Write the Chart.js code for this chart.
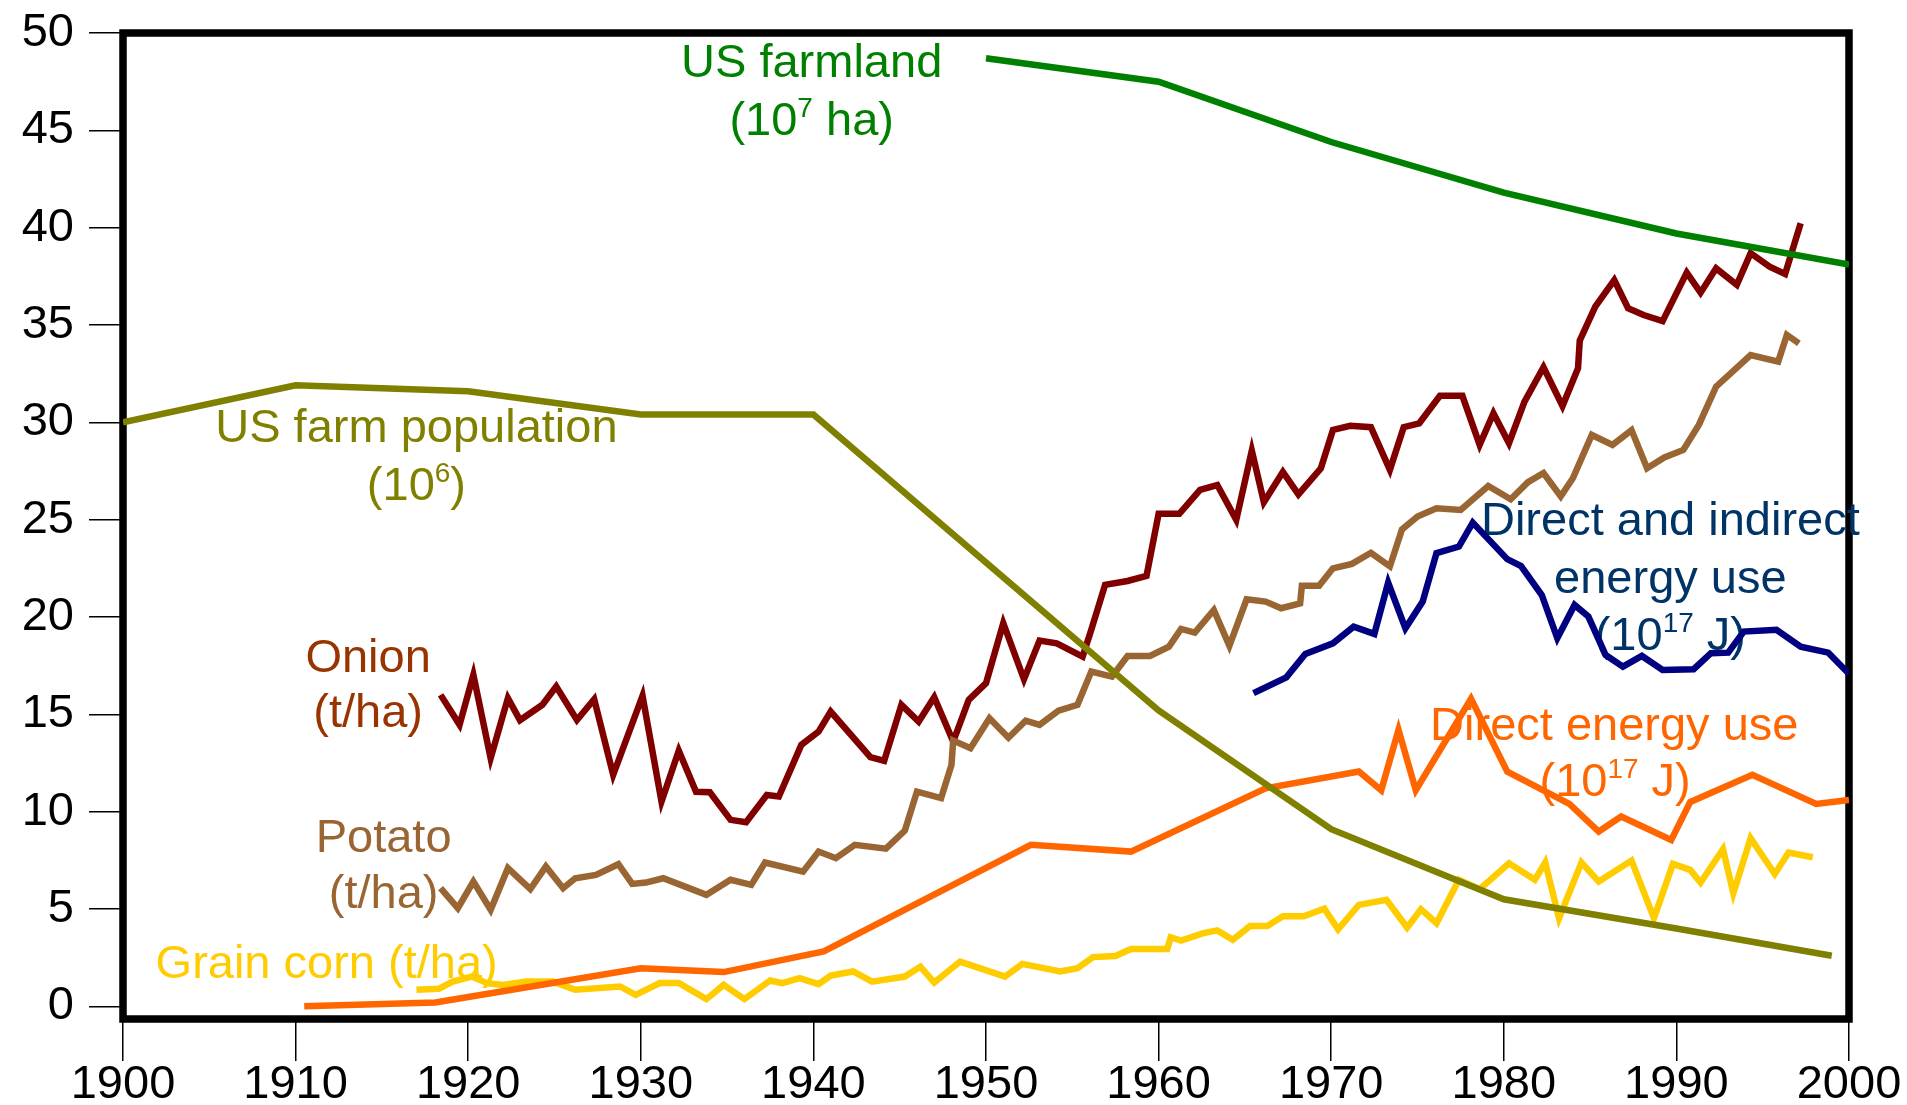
<!DOCTYPE html>
<html>
<head>
<meta charset="utf-8">
<title>US farm trends 1900-2000</title>
<script src="https://cdn.jsdelivr.net/npm/chart.js@4.4.1/dist/chart.umd.min.js"></script>
<style>
  html, body { margin: 0; padding: 0; background: #fff; }
  #wrap { width: 1907px; height: 1105px; }
</style>
</head>
<body>
<div id="wrap"><canvas id="chart"></canvas></div>
<script>
// values, x = year

const xTicks = [1900, 1910, 1920, 1930, 1940, 1950, 1960, 1970, 1980, 1990, 2000];
const yTicks = [0, 5, 10, 15, 20, 25, 30, 35, 40, 45, 50];

// US farmland (10^7 ha)
const farmlandYears = [1950, 1960, 1970, 1980, 1990, 2000];
const farmland = [48.7, 47.5, 44.4, 41.8, 39.7, 38.1];

// US farm population (10^6)
const farmPopYears = [1900, 1910, 1920, 1930, 1940, 1950, 1960, 1970, 1980, 1990, 1999];
const farmPop = [30.0, 31.9, 31.6, 30.4, 30.4, 22.8, 15.2, 9.1, 5.5, 4.0, 2.6];

// direct energy use (10^17 J)
const directYears = [1910.5, 1918.1, 1930, 1934.8, 1940.6, 1952.6, 1958.4, 1966.2, 1971.6, 1972.9,
  1973.9, 1974.9, 1978.1, 1980.2, 1983.8, 1985.5, 1986.8, 1989.7, 1990.8, 1994.4, 1998.1, 2000];
const directEnergy = [0.0, 0.2, 1.96, 1.76, 2.82, 8.3, 7.95, 11.2, 12.06, 11.1,
  14.2, 11.1, 15.8, 12.06, 10.4, 8.98, 9.75, 8.55, 10.5, 11.9, 10.4, 10.6];

// direct and indirect energy use (10^17 J)
const totalYears = [1965.5, 1967.4, 1968.5, 1970.1, 1971.3, 1972.5, 1973.3, 1974.3, 1975.3, 1976.1,
  1977.4, 1978.2, 1980.2, 1981, 1982.2, 1983.1, 1984.1, 1984.9, 1985.9, 1986.9,
  1988, 1989.2, 1991, 1992, 1993, 1993.9, 1995.8, 1997.2, 1998.8, 2000];
const totalEnergy = [16.09, 16.9, 18.1, 18.65, 19.5, 19.13, 21.77, 19.42, 20.79, 23.28,
  23.62, 24.85, 22.97, 22.62, 21.13, 18.91, 20.62, 20.02, 18.05, 17.45,
  18.0, 17.28, 17.32, 18.14, 18.17, 19.25, 19.34, 18.48, 18.17, 17.08];

// onion yield (t/ha)
const onionYears = [1918.4, 1919.5, 1920.3, 1921.3, 1922.3, 1923, 1924.3, 1925.1, 1926.3, 1927.3,
  1928.4, 1930.1, 1931.2, 1932.2, 1933.2, 1934, 1935.2, 1936.1, 1937.3, 1938,
  1939.3, 1940.3, 1941, 1943.3, 1944.1, 1945.1, 1946.1, 1947, 1948.1, 1949,
  1950, 1951, 1952.2, 1953.1, 1954.1, 1955.6, 1956.1, 1956.9, 1958.2, 1959.3,
  1960, 1961.2, 1962.4, 1963.4, 1964.5, 1965.4, 1966.1, 1967.2, 1968.1, 1969.4,
  1970.1, 1971.1, 1972.3, 1973.4, 1974.2, 1975.1, 1976.3, 1977.6, 1978.6, 1979.4,
  1980.3, 1981.2, 1982.3, 1983.4, 1984.3, 1984.4, 1985.3, 1986.4, 1987.2, 1988.1,
  1989.2, 1990.6, 1991.4, 1992.3, 1993.5, 1994.3, 1995.4, 1996.3, 1997.2];
const onion = [16.0, 14.46, 17.03, 12.75, 15.83, 14.7, 15.49, 16.43, 14.71, 15.78,
  11.89, 15.95, 10.52, 13.13, 11.02, 11.0, 9.58, 9.46, 10.86, 10.78,
  13.43, 14.11, 15.14, 12.8, 12.61, 15.49, 14.63, 15.88, 13.6, 15.74,
  16.6, 19.68, 16.8, 18.79, 18.65, 17.97, 19.34, 21.65, 21.85, 22.11,
  25.3, 25.3, 26.53, 26.78, 24.99, 28.55, 25.9, 27.45, 26.3, 27.64,
  29.61, 29.82, 29.75, 27.56, 29.75, 29.95, 31.36, 31.36, 28.84, 30.47,
  28.93, 31.06, 32.83, 30.84, 32.78, 34.2, 35.94, 37.31, 35.86, 35.51,
  35.2, 37.69, 36.66, 37.91, 37.06, 38.69, 38.0, 37.62, 40.23];

// potato yield (t/ha)
const potatoYears = [1918.4, 1919.4, 1920.3, 1921.3, 1922.3, 1923.6, 1924.5, 1925.5, 1926.2, 1927.4,
  1928.7, 1929.5, 1930.3, 1931.3, 1933.8, 1935.2, 1936.4, 1937.2, 1939.4, 1940.3,
  1941.3, 1942.4, 1944.2, 1945.3, 1946, 1947.4, 1948, 1948.1, 1949.1, 1950.2,
  1951.3, 1952.3, 1953.1, 1954.2, 1955.3, 1956.1, 1957.3, 1958.2, 1959.5, 1960.6,
  1961.3, 1962.1, 1963.2, 1964.1, 1965.1, 1966.2, 1967.1, 1968.2, 1968.3, 1969.3,
  1970.1, 1971.2, 1972.3, 1973.4, 1974.1, 1975, 1976.1, 1977.5, 1979.1, 1980.4,
  1981.4, 1982.3, 1983.3, 1984, 1985.1, 1986.3, 1987.4, 1988.3, 1989.3, 1990.4,
  1991.3, 1992.3, 1994.3, 1995.9, 1996.4, 1997.1];
const potato = [6.07, 5.04, 6.41, 4.96, 7.1, 6.02, 7.18, 6.07, 6.58, 6.75,
  7.3, 6.29, 6.36, 6.58, 5.73, 6.5, 6.24, 7.39, 6.92, 7.95,
  7.61, 8.3, 8.1, 9.03, 11.03, 10.7, 12.4, 13.65, 13.26, 14.8,
  13.8, 14.68, 14.46, 15.19, 15.49, 17.2, 16.94, 18.0, 18.0, 18.48,
  19.39, 19.2, 20.36, 18.52, 20.91, 20.79, 20.45, 20.7, 21.6, 21.6,
  22.5, 22.73, 23.3, 22.6, 24.5, 25.16, 25.59, 25.5, 26.73, 26.05,
  26.93, 27.4, 26.2, 27.13, 29.35, 28.84, 29.6, 27.64, 28.2, 28.58,
  29.87, 31.83, 33.46, 33.12, 34.49, 34.06];

// grain corn yield (t/ha)
const cornYears = [1917, 1918.3, 1919.1, 1920.2, 1921.1, 1922, 1923.4, 1924.9, 1926.2, 1928.8,
  1929.7, 1931.1, 1932.2, 1933.8, 1934.8, 1936, 1937.5, 1938.2, 1939.2, 1940.3,
  1941, 1942.3, 1943.4, 1945.3, 1946.2, 1947, 1948.5, 1951.1, 1952.1, 1954.3,
  1955.3, 1956.2, 1957.5, 1958.4, 1960.5, 1960.7, 1961.3, 1962.6, 1963.4, 1964.3,
  1965.3, 1966.3, 1967.2, 1968.4, 1969.6, 1970.4, 1971.6, 1973.2, 1974.4, 1975.2,
  1976.1, 1977.4, 1978.6, 1980.3, 1981.8, 1982.4, 1983.2, 1984.5, 1985.5, 1987.4,
  1988.7, 1989.8, 1990.8, 1991.4, 1992.7, 1993.3, 1994.3, 1995.7, 1996.5, 1997.9];
const corn = [0.85, 0.9, 1.27, 1.53, 1.19, 1.1, 1.27, 1.27, 0.85, 1.02,
  0.59, 1.2, 1.2, 0.37, 1.1, 0.37, 1.33, 1.19, 1.45, 1.14,
  1.58, 1.79, 1.27, 1.53, 2.04, 1.22, 2.3, 1.53, 2.18, 1.79,
  1.96, 2.53, 2.59, 2.95, 2.95, 3.55, 3.38, 3.76, 3.9, 3.42,
  4.13, 4.13, 4.63, 4.63, 5.02, 3.96, 5.21, 5.47, 4.05, 4.99,
  4.27, 6.5, 6.02, 7.35, 6.5, 7.39, 4.53, 7.39, 6.41, 7.49,
  4.53, 7.32, 7.01, 6.36, 8.07, 5.81, 8.64, 6.8, 7.9, 7.66];

const toPoints = (xs, ys) => xs.map((x, i) => ({ x: x, y: ys[i] }));

// text labels placed in data coordinates (year, value of the baseline)
const labels = [
  { color: "#008000", x: 1939.9, y: 47.72, parts: ["US farmland"] },
  { color: "#008000", x: 1939.9, y: 44.74, parts: ["(10", { sup: "7" }, " ha)"] },
  { color: "#808000", x: 1917.0, y: 29.01, parts: ["US farm population"] },
  { color: "#808000", x: 1917.0, y: 26.01, parts: ["(10", { sup: "6" }, ")"] },
  { color: "#993300", x: 1914.2, y: 17.2, parts: ["Onion"] },
  { color: "#993300", x: 1914.2, y: 14.37, parts: ["(t/ha)"] },
  { color: "#996633", x: 1915.1, y: 7.95, parts: ["Potato"] },
  { color: "#996633", x: 1915.1, y: 5.04, parts: ["(t/ha)"] },
  { color: "#FFCC00", x: 1911.8, y: 1.45, parts: ["Grain corn (t/ha)"] },
  { color: "#003366", x: 1989.65, y: 24.22, parts: ["Direct and indirect"] },
  { color: "#003366", x: 1989.65, y: 21.22, parts: ["energy use"] },
  { color: "#003366", x: 1989.65, y: 18.31, parts: ["(10", { sup: "17" }, " J)"] },
  { color: "#FF6600", x: 1986.4, y: 13.69, parts: ["Direct energy use"] },
  { color: "#FF6600", x: 1986.45, y: 10.78, parts: ["(10", { sup: "17" }, " J)"] },
];

const FONT = '"Liberation Sans", Arial, sans-serif';
const TEXT_SIZE = 47;
const SUP_SIZE = 28;

function drawRich(ctx, parts, cx, baseY, color) {
  const pieces = parts.map((p) => {
    const sup = typeof p !== "string";
    const text = sup ? p.sup : p;
    ctx.font = (sup ? SUP_SIZE : TEXT_SIZE) + "px " + FONT;
    return { text, sup, w: ctx.measureText(text).width };
  });
  const total = pieces.reduce((s, p) => s + p.w, 0);
  let x = cx - total / 2;
  ctx.fillStyle = color;
  ctx.textAlign = "left";
  ctx.textBaseline = "alphabetic";
  pieces.forEach((p) => {
    ctx.font = (p.sup ? SUP_SIZE : TEXT_SIZE) + "px " + FONT;
    ctx.fillText(p.text, x, p.sup ? baseY - 18 : baseY);
    x += p.w;
  });
}

// black frame round the plot + the series names
const framePlugin = {
  id: "frameAndLabels",
  beforeDatasetsDraw(chart) {
    const { ctx, chartArea: a, scales } = chart;
    ctx.save();
    ctx.strokeStyle = "#000";
    ctx.lineWidth = 7.5;
    ctx.strokeRect(a.left, a.top, a.right - a.left, a.bottom - a.top);
    labels.forEach((l) => {
      drawRich(ctx, l.parts, scales.x.getPixelForValue(l.x), scales.y.getPixelForValue(l.y), l.color);
    });
    ctx.restore();
  },
};

const line = (data, color) => ({
  data: data,
  borderColor: color,
  backgroundColor: color,
  borderWidth: 6.5,
  pointRadius: 0,
  tension: 0,
  fill: false,
});

new Chart(document.getElementById("chart"), {
  type: "line",
  data: {
    datasets: [
      line(toPoints(farmlandYears, farmland), "#008000"),
      line(toPoints(farmPopYears, farmPop), "#808000"),
      line(toPoints(directYears, directEnergy), "#FF6600"),
      line(toPoints(potatoYears, potato), "#996633"),
      line(toPoints(onionYears, onion), "#800000"),
      line(toPoints(totalYears, totalEnergy), "#000080"),
      line(toPoints(cornYears, corn), "#FFCC00"),
    ],
  },
  options: {
    responsive: true,
    maintainAspectRatio: false,
    devicePixelRatio: 1,
    animation: false,
    layout: { padding: { top: 33, right: 58, left: 0, bottom: 0 } },
    plugins: {
      legend: { display: false },
      tooltip: { enabled: false },
    },
    scales: {
      x: {
        type: "linear",
        min: 1900,
        max: 2000,
        afterBuildTicks: (scale) => {
          scale.ticks = xTicks.map((v) => ({ value: v }));
        },
        afterFit: (scale) => {
          scale.height = 86;
          scale.paddingLeft = 0;
          scale.paddingRight = 0;
        },
        border: { display: false },
        grid: {
          drawOnChartArea: false,
          drawTicks: true,
          tickLength: 42,
          color: "#000",
          lineWidth: 1.5,
        },
        ticks: {
          color: "#000",
          padding: -4,
          maxRotation: 0,
          font: { family: FONT, size: 47 },
          callback: (v) => String(v),
        },
      },
      y: {
        type: "linear",
        min: -0.65,
        max: 50,
        afterBuildTicks: (scale) => {
          scale.ticks = yTicks.map((v) => ({ value: v }));
        },
        afterFit: (scale) => {
          scale.width = 123;
          scale.paddingTop = 0;
          scale.paddingBottom = 0;
        },
        border: { display: false },
        grid: {
          drawOnChartArea: false,
          drawTicks: true,
          tickLength: 34,
          color: "#000",
          lineWidth: 1.5,
        },
        ticks: {
          color: "#000",
          padding: 15,
          font: { family: FONT, size: 47 },
          callback: (v) => String(v),
        },
      },
    },
  },
  plugins: [framePlugin],
});
</script>
</body>
</html>
